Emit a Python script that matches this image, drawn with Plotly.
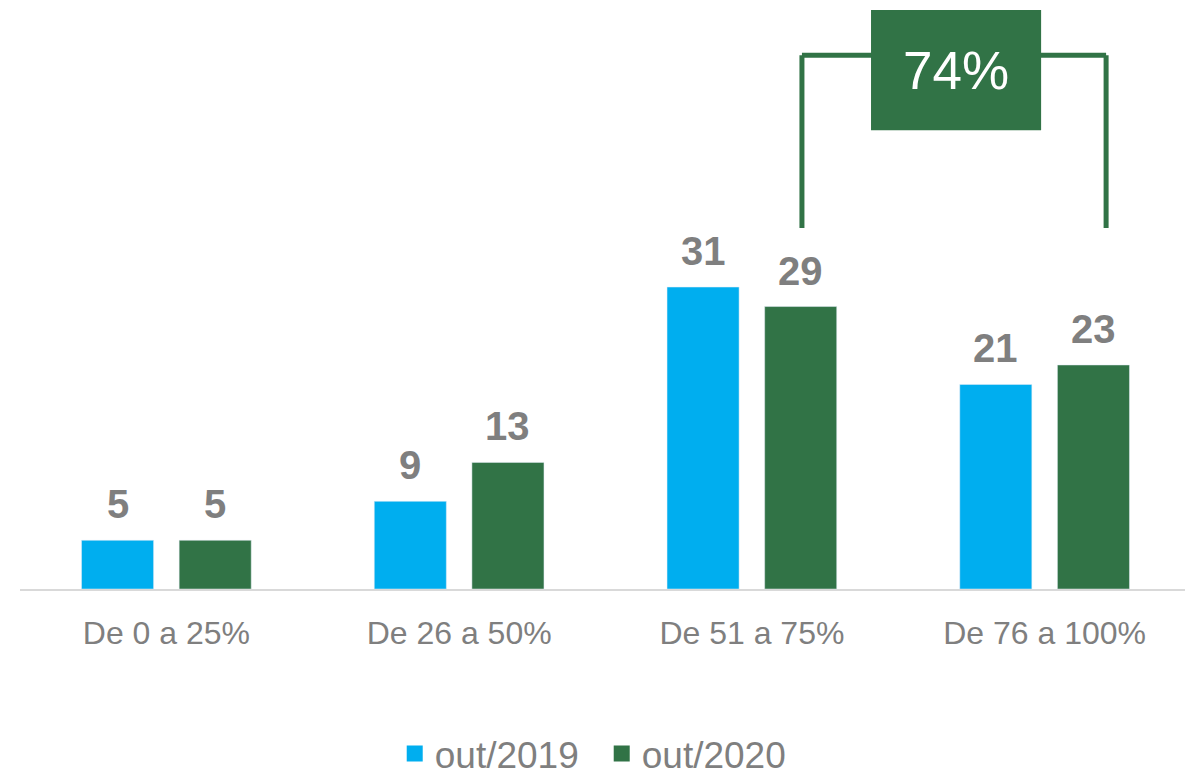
import plotly.graph_objects as go

categories = ["De 0 a 25%", "De 26 a 50%", "De 51 a 75%", "De 76 a 100%"]
series_names = ["out/2019", "out/2020"]
values_2019 = [5, 9, 31, 21]
values_2020 = [5, 13, 29, 23]
bracket_label = "74%"

BLUE = "#00AEEF"
GREEN = "#317346"
GRAY = "#7F7F7F"
FONT = "Liberation Sans, Arial, sans-serif"

# page body has an 8px default margin, so the figure is sized to fit the window
W, H = 1185, 768
ml, mr, mt, mb = 12, 2, 0, 187
px_per_unit = 9.74
y_top = (H - mt - mb) / px_per_unit

bargap = 0.333
bargroupgap = 0.262
offset = (1 - bargap) / 4

xs = list(range(len(categories)))

fig = go.Figure()
fig.add_trace(go.Bar(x=xs, y=values_2019, name=series_names[0], marker_color=BLUE, showlegend=False))
fig.add_trace(go.Bar(x=xs, y=values_2020, name=series_names[1], marker_color=GREEN, showlegend=False))
# legend entries with large square swatches
for name, col in zip(series_names, (BLUE, GREEN)):
    fig.add_trace(go.Scatter(x=[None], y=[None], mode="markers", name=name,
                             marker=dict(symbol="square", size=16, color=col),
                             hoverinfo="skip"))

annotations = []
for i, (a, b) in enumerate(zip(values_2019, values_2020)):
    for xv, v in ((i - offset, a), (i + offset, b)):
        annotations.append(dict(x=xv, y=v, xref="x", yref="y", text=f"<b>{v}</b>",
                                showarrow=False, yanchor="bottom", yshift=12,
                                font=dict(family=FONT, size=40, color=GRAY)))

# bracket linking the two upper ranges
left_x = 2.171
right_x = 3.21
y_low = 37.06
y_high = 54.8
box_x0, box_x1 = 2.407, 2.988
box_y0, box_y1 = 47.1, 59.45
LW = 5
shapes = [
    dict(type="line", xref="x", yref="y", x0=left_x, x1=left_x, y0=y_low, y1=y_high,
         line=dict(color=GREEN, width=LW)),
    dict(type="line", xref="x", yref="y", x0=right_x, x1=right_x, y0=y_low, y1=y_high,
         line=dict(color=GREEN, width=LW)),
    dict(type="line", xref="x", yref="y", x0=left_x, x1=right_x, y0=y_high, y1=y_high,
         line=dict(color=GREEN, width=LW)),
    dict(type="rect", xref="x", yref="y", x0=box_x0, x1=box_x1, y0=box_y0, y1=box_y1,
         fillcolor=GREEN, line=dict(width=0)),
]
annotations.append(dict(x=(box_x0 + box_x1) / 2, y=(box_y0 + box_y1) / 2, xref="x", yref="y",
                        text=bracket_label, showarrow=False,
                        font=dict(family=FONT, size=53, color="white")))

fig.update_layout(
    width=W, height=H,
    margin=dict(l=ml, r=mr, t=mt, b=mb, autoexpand=False),
    paper_bgcolor="white", plot_bgcolor="white",
    barmode="group", bargap=bargap, bargroupgap=bargroupgap,
    shapes=shapes, annotations=annotations,
    showlegend=True,
    legend=dict(orientation="h", x=0.320, xanchor="left", y=-0.284, yanchor="middle",
                entrywidth=162,
                font=dict(family=FONT, size=37, color=GRAY), itemsizing="trace"),
    xaxis=dict(range=[-0.5, 3.5], tickmode="array", tickvals=xs, ticktext=categories,
               showline=True, linecolor="#D9D9D9", linewidth=2, showgrid=False,
               zeroline=False, ticks="outside", ticklen=15, tickcolor="rgba(0,0,0,0)",
               tickfont=dict(family=FONT, size=32, color=GRAY)),
    yaxis=dict(range=[0, y_top], visible=False, showgrid=False, zeroline=False),
)

fig.write_html("out.html")
